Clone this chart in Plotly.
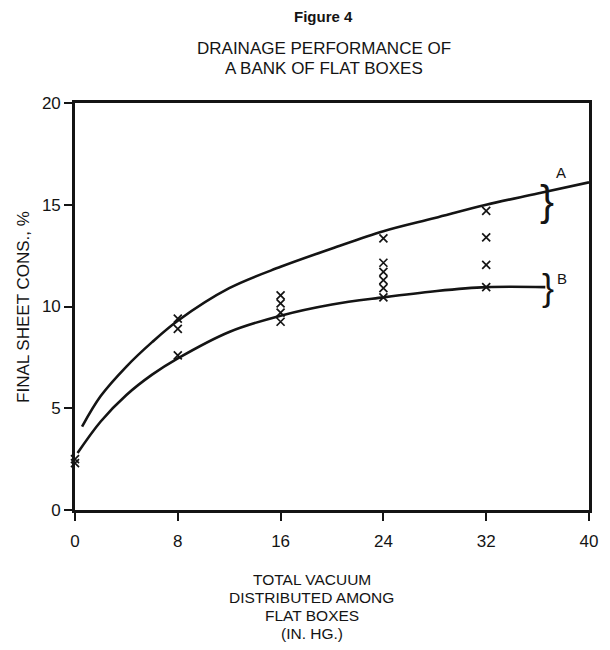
import plotly.graph_objects as go

# ---- data ----
curve_a_x = [0.55, 2, 4, 6, 8, 12, 16, 20, 24, 28, 32, 36, 40]
curve_a_y = [4.1, 5.6, 7.05, 8.25, 9.3, 10.9, 11.95, 12.85, 13.7, 14.35, 15.0, 15.55, 16.1]

curve_b_x = [0.2, 2, 4, 6, 8, 12, 16, 20, 24, 28, 32, 36.6]
curve_b_y = [2.8, 4.35, 5.65, 6.65, 7.45, 8.75, 9.55, 10.1, 10.45, 10.75, 10.95, 10.95]

obs_x = [0, 0, 8, 8, 8, 16, 16, 16, 16, 24, 24, 24, 24, 24, 24, 32, 32, 32, 32]
obs_y = [2.5, 2.3, 9.4, 8.9, 7.6, 10.55, 10.15, 9.7, 9.25,
         13.35, 12.15, 11.7, 11.3, 10.9, 10.45, 14.7, 13.4, 12.05, 10.95]

x_ticks = [0, 8, 16, 24, 32, 40]
y_ticks = [0, 5, 10, 15, 20]

title_lines = ["DRAINAGE PERFORMANCE OF", "A BANK OF FLAT BOXES"]
x_title_lines = ["TOTAL VACUUM", "DISTRIBUTED AMONG", "FLAT BOXES", "(IN. HG.)"]
y_title = "FINAL SHEET CONS., %"

FONT = "Liberation Sans, Arial, sans-serif"
INK = "#141414"

fig = go.Figure()
fig.add_trace(go.Scatter(x=curve_a_x, y=curve_a_y, mode="lines",
                         line=dict(color=INK, width=2.6, shape="spline", smoothing=1.0),
                         hoverinfo="skip"))
fig.add_trace(go.Scatter(x=curve_b_x, y=curve_b_y, mode="lines",
                         line=dict(color=INK, width=2.6, shape="spline", smoothing=1.0),
                         hoverinfo="skip"))
fig.add_trace(go.Scatter(x=obs_x, y=obs_y, mode="markers",
                         marker=dict(symbol="x-thin", size=8,
                                     line=dict(color=INK, width=1.7)),
                         cliponaxis=False))

axis_common = dict(showline=True, linecolor=INK, linewidth=2.6, mirror=True,
                   ticks="outside", ticklen=8, tickwidth=2, tickcolor=INK,
                   showgrid=False, zeroline=False,
                   tickfont=dict(family=FONT, size=17, color=INK))

fig.update_xaxes(range=[0, 40], tickvals=x_ticks, ticklabelstandoff=6, **axis_common)
fig.update_yaxes(range=[0, 20], tickvals=y_ticks, **axis_common)


def px_to_paper_y(py):
    return (510 - py) / 407.0


def px_to_paper_x(px):
    return (px - 75) / 523.0


annotations = []
annotations.append(dict(text="<b>Figure 4</b>", x=px_to_paper_x(328), y=px_to_paper_y(17),
                        xref="paper", yref="paper", xanchor="center", yanchor="middle",
                        showarrow=False, font=dict(family=FONT, size=15, color=INK)))
for i, t in enumerate(title_lines):
    annotations.append(dict(text=t, x=px_to_paper_x(328), y=px_to_paper_y(49 + i * 19),
                            xref="paper", yref="paper", xanchor="center", yanchor="middle",
                            showarrow=False, font=dict(family=FONT, size=17, color=INK)))
for i, t in enumerate(x_title_lines):
    annotations.append(dict(text=t, x=px_to_paper_x(316), y=px_to_paper_y(579 + i * 18),
                            xref="paper", yref="paper", xanchor="center", yanchor="middle",
                            showarrow=False, font=dict(family=FONT, size=15.5, color=INK)))
annotations.append(dict(text=y_title, x=px_to_paper_x(22), y=px_to_paper_y(307),
                        xref="paper", yref="paper", xanchor="center", yanchor="middle",
                        textangle=-90, showarrow=False,
                        font=dict(family=FONT, size=17, color=INK)))
# curve labels and braces
annotations.append(dict(text="}", x=36.7, y=15.2, xref="x", yref="y", showarrow=False,
                        font=dict(family=FONT, size=42, color=INK)))
annotations.append(dict(text="}", x=36.8, y=10.95, xref="x", yref="y", showarrow=False,
                        font=dict(family=FONT, size=36, color=INK)))
annotations.append(dict(text="A", x=37.8, y=16.6, xref="x", yref="y", showarrow=False,
                        font=dict(family=FONT, size=15, color=INK)))
annotations.append(dict(text="B", x=37.9, y=11.4, xref="x", yref="y", showarrow=False,
                        font=dict(family=FONT, size=15, color=INK)))

fig.update_layout(width=610, height=650, autosize=False,
                  margin=dict(l=75, r=12, t=103, b=140),
                  paper_bgcolor="white", plot_bgcolor="white",
                  showlegend=False, annotations=annotations,
                  font=dict(family=FONT, color=INK))

fig.write_html("out.html")
